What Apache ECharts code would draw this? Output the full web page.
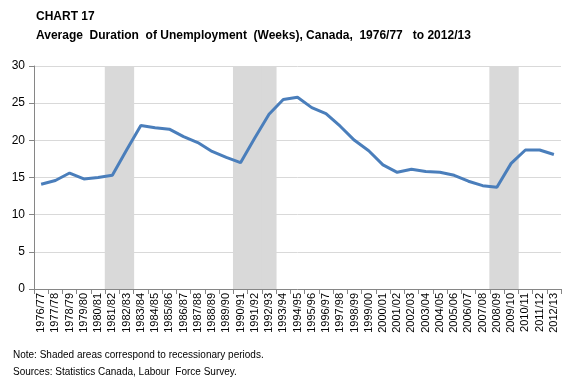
<!DOCTYPE html>
<html><head><meta charset="utf-8">
<script src="https://cdn.jsdelivr.net/npm/echarts@6/dist/echarts.min.js"></script>
<style>html,body{margin:0;padding:0;background:#fff}#c{width:566px;height:382px}</style>
</head><body><div id="c"></div>
<script>
var categories = ['1976/77','1977/78','1978/79','1979/80','1980/81','1981/82','1982/83','1983/84','1984/85','1985/86','1986/87','1987/88','1988/89','1989/90','1990/91','1991/92','1992/93','1993/94','1994/95','1995/96','1996/97','1997/98','1998/99','1999/00','2000/01','2001/02','2002/03','2003/04','2004/05','2005/06','2006/07','2007/08','2008/09','2009/10','2010/11','2011/12','2012/13'];
var durationWeeks = [14.1,14.6,15.6,14.8,15.0,15.3,18.7,22.0,21.7,21.5,20.5,19.7,18.5,17.7,17.0,20.3,23.5,25.5,25.8,24.4,23.6,21.9,20.0,18.6,16.7,15.7,16.1,15.8,15.7,15.3,14.5,13.9,13.7,16.9,18.7,18.7,18.1];
var recessionYears = ['1981/82','1982/83','1990/91','1991/92','1992/93','2008/09','2009/10'];
var yTicks = [0,5,10,15,20,25,30];

var shade = categories.map(function(c){ return recessionYears.indexOf(c) >= 0 ? yTicks[yTicks.length-1] : null; });
var font = 'Liberation Sans';
var chart = echarts.init(document.getElementById('c'));
chart.setOption({
  animation: false,
  textStyle: {fontFamily: font},
  title: [
    {text: 'CHART 17', left: 36, top: 11, padding: 0, textStyle: {fontFamily: font, fontSize: 12, fontWeight: 'bold', color: '#000'}},
    {text: 'Average  Duration  of Unemployment  (Weeks), Canada,  1976/77   to 2012/13', left: 36, top: 30, padding: 0, textStyle: {fontFamily: font, fontSize: 12, fontWeight: 'bold', color: '#000'}},
    {text: 'Note: Shaded areas correspond to recessionary periods.', left: 13, top: 350, padding: 0, textStyle: {fontFamily: font, fontSize: 10, fontWeight: 'normal', color: '#000'}},
    {text: 'Sources: Statistics Canada, Labour  Force Survey.', left: 13, top: 367, padding: 0, textStyle: {fontFamily: font, fontSize: 10, fontWeight: 'normal', color: '#000'}}
  ],
  grid: {left: 34, right: 5, top: 66, bottom: 93, containLabel: false},
  xAxis: {
    type: 'category', data: categories, boundaryGap: true,
    axisLine: {lineStyle: {color: '#868686'}},
    axisTick: {show: true, alignWithLabel: false, length: 5, lineStyle: {color: '#868686'}},
    axisLabel: {rotate: 90, interval: 0, fontSize: 11, color: '#000', margin: 4}
  },
  yAxis: {
    type: 'value', min: 0, max: 30, interval: 5,
    axisLine: {show: true, lineStyle: {color: '#868686'}},
    axisTick: {show: true, length: 5, lineStyle: {color: '#868686'}},
    axisLabel: {fontSize: 12, color: '#000', margin: 9},
    splitLine: {lineStyle: {color: '#d9d9d9', width: 1}}
  },
  series: [
    {type: 'bar', data: shade, barWidth: '106%', itemStyle: {color: '#d9d9d9'}, silent: true, z: 1},
    {type: 'line', data: durationWeeks, symbol: 'none', lineStyle: {color: '#4a7ebb', width: 3}, z: 3}
  ]
});
</script></body></html>
